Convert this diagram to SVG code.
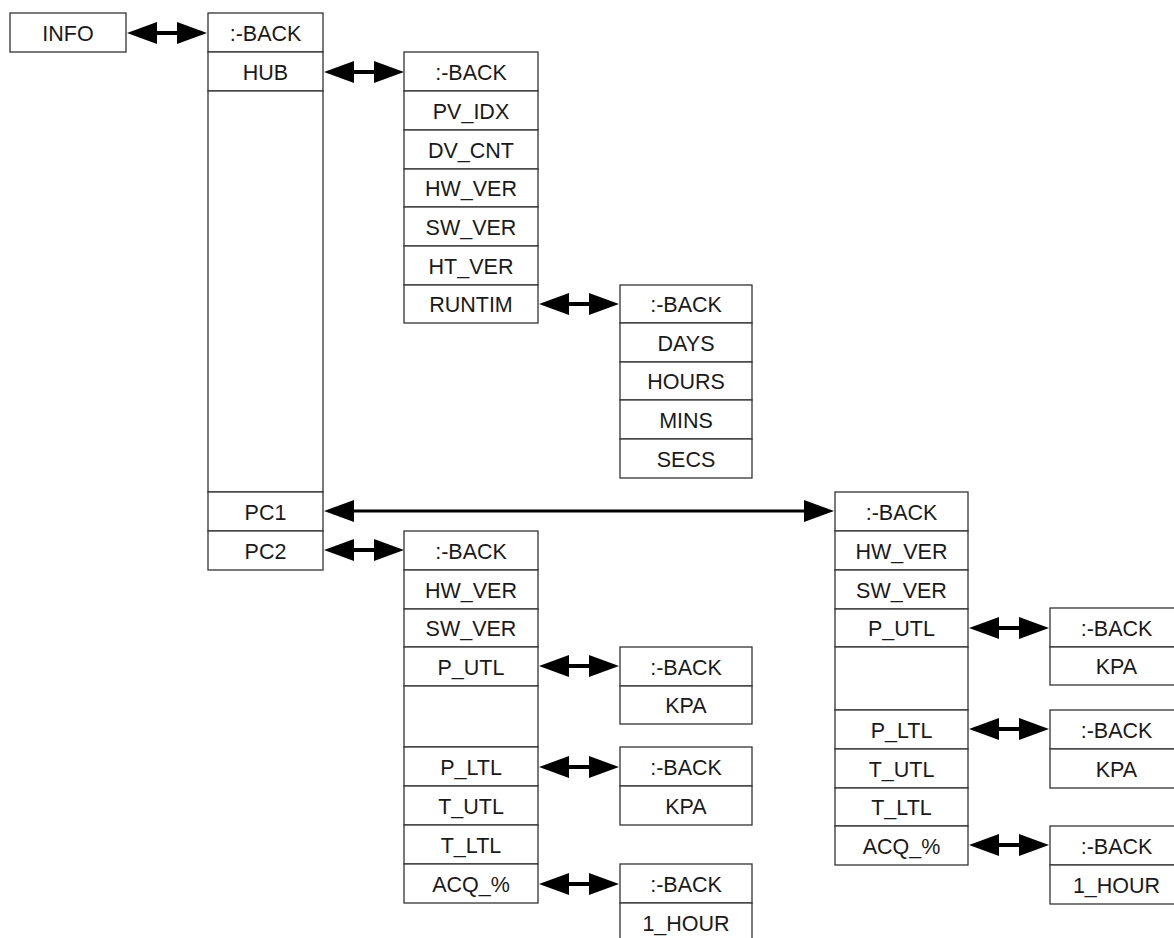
<svg xmlns="http://www.w3.org/2000/svg" width="1174" height="938" viewBox="0 0 1174 938">
<style>
rect.c{fill:#fff;stroke:#333;stroke-width:1.3}
text{font-family:"Liberation Sans",Arial,sans-serif;font-size:21.5px;fill:#1a1a1a;text-anchor:middle}
.sh{stroke:#000;stroke-width:4}
.sh2{stroke:#000;stroke-width:3}
.hd{fill:#000}
</style>
<rect width="1174" height="938" fill="#fff"/>
<g id="info"><rect class="c" x="10" y="13" width="116" height="39"/><text x="68" y="40.5">INFO</text></g>
<g id="menu-info">
<rect class="c" x="208" y="13" width="115" height="39"/><text x="265.5" y="40.5">:-BACK</text>
<rect class="c" x="208" y="52" width="115" height="39"/><text x="265.5" y="79.5">HUB</text>
<rect class="c" x="208" y="91" width="115" height="401"/>
<rect class="c" x="208" y="492" width="115" height="39"/><text x="265.5" y="519.5">PC1</text>
<rect class="c" x="208" y="531" width="115" height="39"/><text x="265.5" y="558.5">PC2</text>
</g>
<g id="menu-hub">
<rect class="c" x="404" y="52" width="134" height="39"/><text x="471" y="79.5">:-BACK</text>
<rect class="c" x="404" y="91" width="134" height="39"/><text x="471" y="118.5">PV_IDX</text>
<rect class="c" x="404" y="130" width="134" height="39"/><text x="471" y="157.5">DV_CNT</text>
<rect class="c" x="404" y="169" width="134" height="38"/><text x="471" y="196">HW_VER</text>
<rect class="c" x="404" y="207" width="134" height="39"/><text x="471" y="234.5">SW_VER</text>
<rect class="c" x="404" y="246" width="134" height="39"/><text x="471" y="273.5">HT_VER</text>
<rect class="c" x="404" y="285" width="134" height="38"/><text x="471" y="312">RUNTIM</text>
</g>
<g id="menu-runtim">
<rect class="c" x="620" y="285" width="132" height="38"/><text x="686" y="312">:-BACK</text>
<rect class="c" x="620" y="323" width="132" height="39"/><text x="686" y="350.5">DAYS</text>
<rect class="c" x="620" y="362" width="132" height="38"/><text x="686" y="389">HOURS</text>
<rect class="c" x="620" y="400" width="132" height="39"/><text x="686" y="427.5">MINS</text>
<rect class="c" x="620" y="439" width="132" height="39"/><text x="686" y="466.5">SECS</text>
</g>
<g id="menu-pc2">
<rect class="c" x="404" y="531" width="134" height="39"/><text x="471" y="558.5">:-BACK</text>
<rect class="c" x="404" y="570" width="134" height="39"/><text x="471" y="597.5">HW_VER</text>
<rect class="c" x="404" y="609" width="134" height="38"/><text x="471" y="636">SW_VER</text>
<rect class="c" x="404" y="647" width="134" height="39"/><text x="471" y="674.5">P_UTL</text>
<rect class="c" x="404" y="686" width="134" height="61"/>
<rect class="c" x="404" y="747" width="134" height="39"/><text x="471" y="774.5">P_LTL</text>
<rect class="c" x="404" y="786" width="134" height="39"/><text x="471" y="813.5">T_UTL</text>
<rect class="c" x="404" y="825" width="134" height="39"/><text x="471" y="852.5">T_LTL</text>
<rect class="c" x="404" y="864" width="134" height="39"/><text x="471" y="891.5">ACQ_%</text>
</g>
<g id="pc2-putl">
<rect class="c" x="620" y="647" width="132" height="39"/><text x="686" y="674.5">:-BACK</text>
<rect class="c" x="620" y="686" width="132" height="38"/><text x="686" y="713">KPA</text>
</g>
<g id="pc2-pltl">
<rect class="c" x="620" y="747" width="132" height="39"/><text x="686" y="774.5">:-BACK</text>
<rect class="c" x="620" y="786" width="132" height="39"/><text x="686" y="813.5">KPA</text>
</g>
<g id="pc2-acq">
<rect class="c" x="620" y="864" width="132" height="39"/><text x="686" y="891.5">:-BACK</text>
<rect class="c" x="620" y="903" width="132" height="39"/><text x="686" y="930.5">1_HOUR</text>
</g>
<g id="menu-pc1">
<rect class="c" x="835" y="492" width="133" height="39"/><text x="901.5" y="519.5">:-BACK</text>
<rect class="c" x="835" y="531" width="133" height="39"/><text x="901.5" y="558.5">HW_VER</text>
<rect class="c" x="835" y="570" width="133" height="39"/><text x="901.5" y="597.5">SW_VER</text>
<rect class="c" x="835" y="609" width="133" height="38"/><text x="901.5" y="636">P_UTL</text>
<rect class="c" x="835" y="647" width="133" height="63"/>
<rect class="c" x="835" y="710" width="133" height="39"/><text x="901.5" y="737.5">P_LTL</text>
<rect class="c" x="835" y="749" width="133" height="39"/><text x="901.5" y="776.5">T_UTL</text>
<rect class="c" x="835" y="788" width="133" height="38"/><text x="901.5" y="815">T_LTL</text>
<rect class="c" x="835" y="826" width="133" height="39"/><text x="901.5" y="853.5">ACQ_%</text>
</g>
<g id="pc1-putl">
<rect class="c" x="1050" y="608" width="140" height="39"/><text x="1116.5" y="635.5">:-BACK</text>
<rect class="c" x="1050" y="647" width="140" height="38"/><text x="1116.5" y="674">KPA</text>
</g>
<g id="pc1-pltl">
<rect class="c" x="1050" y="710" width="140" height="39"/><text x="1116.5" y="737.5">:-BACK</text>
<rect class="c" x="1050" y="749" width="140" height="39"/><text x="1116.5" y="776.5">KPA</text>
</g>
<g id="pc1-acq">
<rect class="c" x="1050" y="826" width="140" height="39"/><text x="1116.5" y="853.5">:-BACK</text>
<rect class="c" x="1050" y="865" width="140" height="39"/><text x="1116.5" y="892.5">1_HOUR</text>
</g>
<g id="connectors">
<line class="sh" x1="150" y1="33" x2="185" y2="33"/><polygon class="hd" points="127,33 157,22 157,44"/><polygon class="hd" points="207,33 177,22 177,44"/>
<line class="sh" x1="347" y1="72" x2="382" y2="72"/><polygon class="hd" points="324,72 354,61 354,83"/><polygon class="hd" points="404,72 374,61 374,83"/>
<line class="sh" x1="562" y1="304" x2="597" y2="304"/><polygon class="hd" points="539,304 569,293 569,315"/><polygon class="hd" points="619,304 589,293 589,315"/>
<line class="sh2" x1="347" y1="511" x2="812" y2="511"/><polygon class="hd" points="324,511 354,500 354,522"/><polygon class="hd" points="834,511 804,500 804,522"/>
<line class="sh" x1="347" y1="550" x2="382" y2="550"/><polygon class="hd" points="324,550 354,539 354,561"/><polygon class="hd" points="404,550 374,539 374,561"/>
<line class="sh" x1="562" y1="666" x2="597" y2="666"/><polygon class="hd" points="539,666 569,655 569,677"/><polygon class="hd" points="619,666 589,655 589,677"/>
<line class="sh" x1="562" y1="767" x2="597" y2="767"/><polygon class="hd" points="539,767 569,756 569,778"/><polygon class="hd" points="619,767 589,756 589,778"/>
<line class="sh" x1="562" y1="884" x2="597" y2="884"/><polygon class="hd" points="539,884 569,873 569,895"/><polygon class="hd" points="619,884 589,873 589,895"/>
<line class="sh" x1="992" y1="628" x2="1027" y2="628"/><polygon class="hd" points="969,628 999,617 999,639"/><polygon class="hd" points="1049,628 1019,617 1019,639"/>
<line class="sh" x1="992" y1="729" x2="1027" y2="729"/><polygon class="hd" points="969,729 999,718 999,740"/><polygon class="hd" points="1049,729 1019,718 1019,740"/>
<line class="sh" x1="992" y1="845" x2="1027" y2="845"/><polygon class="hd" points="969,845 999,834 999,856"/><polygon class="hd" points="1049,845 1019,834 1019,856"/>
</g>
</svg>
